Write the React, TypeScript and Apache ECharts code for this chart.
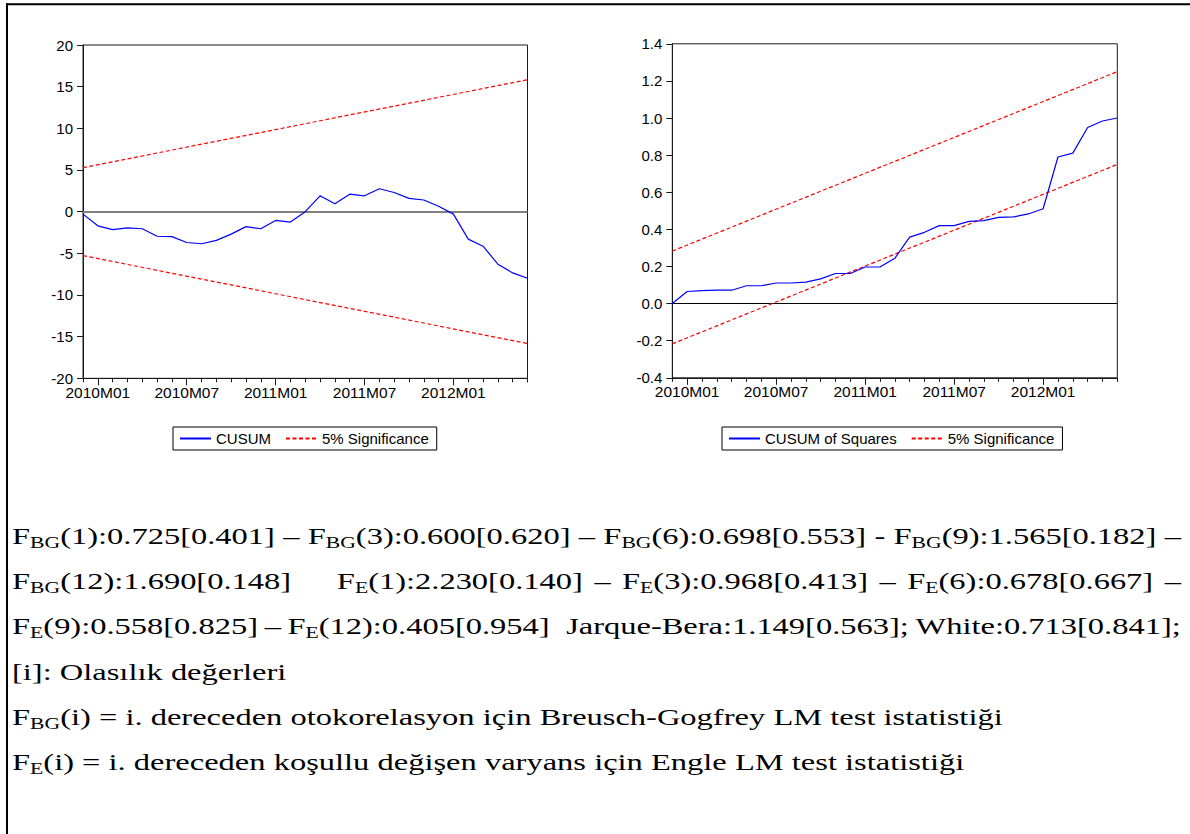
import React, { useEffect, useRef } from "react";
import * as echarts from "echarts";

// ---------- DATA ----------
const months = [
  "2009M12",
  "2010M01", "2010M02", "2010M03", "2010M04", "2010M05", "2010M06",
  "2010M07", "2010M08", "2010M09", "2010M10", "2010M11", "2010M12",
  "2011M01", "2011M02", "2011M03", "2011M04", "2011M05", "2011M06",
  "2011M07", "2011M08", "2011M09", "2011M10", "2011M11", "2011M12",
  "2012M01", "2012M02", "2012M03", "2012M04", "2012M05", "2012M06",
];
const labeledMonths = ["2010M01", "2010M07", "2011M01", "2011M07", "2012M01"];

const cusum = [
  -0.3, -1.7, -2.15, -1.95, -2.05, -2.95, -3.0, -3.7, -3.85, -3.45, -2.7,
  -1.8, -2.05, -1.05, -1.25, 0.0, 1.9, 0.95, 2.1, 1.9, 2.75, 2.3, 1.6, 1.4,
  0.65, -0.3, -3.3, -4.15, -6.3, -7.35, -8.0,
];
// 5% significance bounds of CUSUM at the first and last month
const cusumUpper = [5.28, 15.83];
const cusumLower = [-5.28, -15.83];

const cusumSq = [
  0.0, 0.065, 0.07, 0.072, 0.072, 0.096, 0.096, 0.111, 0.111, 0.116, 0.133,
  0.162, 0.162, 0.197, 0.197, 0.244, 0.358, 0.384, 0.42, 0.42, 0.443, 0.447,
  0.465, 0.467, 0.483, 0.511, 0.79, 0.811, 0.949, 0.984, 1.0,
];
const cusumSqUpper = [0.283, 1.25];
const cusumSqLower = [-0.217, 0.75];

const cusumAxis = { min: -20, max: 20, step: 5 };
const cusumSqAxis = { min: -0.4, max: 1.4, step: 0.2 };

const legendLeft = ["CUSUM", "5% Significance"];
const legendRight = ["CUSUM of Squares", "5% Significance"];

const statLine1 = ["F_{BG}(1):0.725[0.401]", "–", "F_{BG}(3):0.600[0.620]", "–", "F_{BG}(6):0.698[0.553]", "-", "F_{BG}(9):1.565[0.182]", "–"];
const statLine2 = ["F_{BG}(12):1.690[0.148]", "F_{E}(1):2.230[0.140]", "–", "F_{E}(3):0.968[0.413]", "–", "F_{E}(6):0.678[0.667]", "–"];
const statLine3 = ["F_{E}(9):0.558[0.825]", "–", "F_{E}(12):0.405[0.954]", "Jarque-Bera:1.149[0.563];", "White:0.713[0.841];"];
const noteLine1 = "[i]: Olasılık değerleri";
const noteLine2 = "F_{BG}(i) = i. dereceden otokorelasyon için Breusch-Gogfrey LM test istatistiği";
const noteLine3 = "F_{E}(i) = i. dereceden koşullu değişen varyans için Engle LM test istatistiği";

// ---------- LAYOUT ----------
const SANS = '"Liberation Sans", Arial, sans-serif';
const SERIF = '"Liberation Serif", "Times New Roman", serif';
const AXIS = "#1a1a1a";
const TEXT_LEFT = 12;
const TEXT_RIGHT = 1181;
const LINE_Y = [536, 581, 626, 672, 717, 762];
const FS = 24;
const SUB_FS = 16;
const SUB_DY = 6.5;

type Part = { t: string; sub: boolean };
function parse(s: string): Part[] {
  const out: Part[] = [];
  const re = /_\{([^}]*)\}/g;
  let last = 0;
  let m: RegExpExecArray | null;
  while ((m = re.exec(s))) {
    if (m.index > last) out.push({ t: s.slice(last, m.index), sub: false });
    out.push({ t: m[1], sub: true });
    last = m.index + m[0].length;
  }
  if (last < s.length) out.push({ t: s.slice(last), sub: false });
  return out;
}

function buildText(): any[] {
  const canvas = document.createElement("canvas");
  const ctx = canvas.getContext("2d")!;
  const measure = (t: string, size: number) => {
    ctx.font = `${size}px ${SERIF}`;
    return ctx.measureText(t).width;
  };
  const wordWidth = (w: string) =>
    parse(w).reduce((s, p) => s + measure(p.t, p.sub ? SUB_FS : FS), 0);
  const space = measure(" ", FS);
  const lines = [
    { words: statLine1, gaps: [1, 1, 1, 1, 1, 1, 1], justify: true },
    { words: statLine2, gaps: [4, 1, 1, 1, 1, 1], justify: true },
    { words: statLine3, gaps: [1, 1, 2.5, 1], justify: true },
    { words: noteLine1.split(" "), gaps: [] as number[], justify: false },
    { words: noteLine2.split(" "), gaps: [] as number[], justify: false },
    { words: noteLine3.split(" "), gaps: [] as number[], justify: false },
  ];
  const natural = (ws: string[]) =>
    ws.reduce((s, w) => s + wordWidth(w), 0) + (ws.length - 1) * space;
  const S =
    ((1002 - TEXT_LEFT) / natural(lines[4].words) +
      (965 - TEXT_LEFT) / natural(lines[5].words)) /
    2;

  const els: any[] = [];
  lines.forEach((line, li) => {
    const y = LINE_Y[li];
    const widths = line.words.map(wordWidth);
    const total = widths.reduce((a, b) => a + b, 0) * S;
    let unit = space * S;
    if (line.justify) {
      const g = line.gaps.reduce((a, b) => a + b, 0);
      unit = (TEXT_RIGHT - TEXT_LEFT - total) / g;
    }
    let x = TEXT_LEFT;
    line.words.forEach((w, wi) => {
      parse(w).forEach((p) => {
        const size = p.sub ? SUB_FS : FS;
        els.push({
          type: "text",
          x,
          y: y + (p.sub ? SUB_DY : 0),
          scaleX: S,
          silent: true,
          style: {
            text: p.t,
            fontSize: size,
            fontFamily: SERIF,
            fill: "#000",
            align: "left",
            verticalAlign: "middle",
          },
        });
        x += measure(p.t, size) * S;
      });
      if (wi < line.words.length - 1) {
        x += line.justify ? unit * line.gaps[wi] : unit;
      }
    });
  });
  return els;
}

function buildOption(): any {
  const isLabeled = (i: number) => labeledMonths.includes(months[i]);
  const last = months.length - 1;

  const xMain = (gridIndex: number) => ({
    type: "category",
    gridIndex,
    data: months,
    boundaryGap: false,
    position: "bottom",
    axisLine: { show: true, onZero: false, lineStyle: { color: AXIS, width: 1 } },
    axisTick: { show: true, interval: 0, length: 4, lineStyle: { color: AXIS } },
    axisLabel: {
      interval: (i: number) => isLabeled(i),
      color: "#000",
      fontSize: 15.5,
      fontFamily: SANS,
      margin: 6,
    },
    splitLine: { show: false },
  });
  const xMajor = (gridIndex: number) => ({
    type: "category",
    gridIndex,
    data: months,
    boundaryGap: false,
    position: "bottom",
    axisLine: { show: false, onZero: false },
    axisTick: { show: true, interval: (i: number) => isLabeled(i), length: 7, lineStyle: { color: AXIS } },
    axisLabel: { show: false },
    splitLine: { show: false },
  });
  const yAxis = (gridIndex: number, ax: any, fmt?: (v: number) => string) => ({
    type: "value",
    gridIndex,
    min: ax.min,
    max: ax.max,
    interval: ax.step,
    axisLine: { show: true, onZero: false, lineStyle: { color: AXIS, width: 1 } },
    axisTick: { show: true, length: 6, lineStyle: { color: AXIS } },
    axisLabel: { color: "#000", fontSize: 15, fontFamily: SANS, margin: 10, formatter: fmt },
    splitLine: { show: false },
  });

  const band = (name: string, xi: number, yi: number, ends: number[]) => ({
    name,
    type: "line",
    xAxisIndex: xi,
    yAxisIndex: yi,
    data: [
      [months[0], ends[0]],
      [months[last], ends[1]],
    ],
    symbol: "none",
    showSymbol: false,
    color: "#ff0000",
    lineStyle: { color: "#ff0000", width: 1.2, type: [4, 2.5] },
    silent: true,
    z: 3,
  });

  const legendBase = {
    top: 427,
    orient: "horizontal",
    itemWidth: 31,
    itemHeight: 14,
    itemGap: 14,
    padding: [4, 8, 4, 6],
    borderColor: "#000",
    borderWidth: 1,
    selectedMode: false,
    itemStyle: { opacity: 0, borderWidth: 0 },
    textStyle: { fontSize: 15, color: "#000", fontFamily: SANS },
  };

  return {
    animation: false,
    backgroundColor: "#fff",
    grid: [
      { left: 83, top: 45, width: 444.5, height: 333.3, show: true, borderColor: AXIS, borderWidth: 1, backgroundColor: "transparent" },
      { left: 672.3, top: 43.8, width: 445, height: 334, show: true, borderColor: AXIS, borderWidth: 1, backgroundColor: "transparent" },
    ],
    xAxis: [xMain(0), xMajor(0), xMain(1), xMajor(1)],
    yAxis: [
      yAxis(0, cusumAxis),
      yAxis(1, cusumSqAxis, (v: number) => (Math.abs(v) < 1e-9 ? "0.0" : v.toFixed(1))),
    ],
    legend: [
      { ...legendBase, data: legendLeft, left: 173 },
      { ...legendBase, data: legendRight, left: 722 },
    ],
    series: [
      {
        name: "CUSUM",
        type: "line",
        xAxisIndex: 0,
        yAxisIndex: 0,
        data: cusum,
        symbol: "none",
        showSymbol: false,
        color: "#0000ff",
        lineStyle: { color: "#0000ff", width: 1.2 },
        silent: true,
        z: 4,
        markLine: {
          silent: true,
          symbol: ["none", "none"],
          label: { show: false },
          lineStyle: { color: "#808080", width: 2, type: "solid" },
          data: [{ yAxis: 0 }],
          z: 1,
        },
      },
      band("5% Significance", 0, 0, cusumUpper),
      band("5% Significance", 0, 0, cusumLower),
      {
        name: "CUSUM of Squares",
        type: "line",
        xAxisIndex: 2,
        yAxisIndex: 1,
        data: cusumSq,
        symbol: "none",
        showSymbol: false,
        color: "#0000ff",
        lineStyle: { color: "#0000ff", width: 1.2 },
        silent: true,
        z: 4,
        markLine: {
          silent: true,
          symbol: ["none", "none"],
          label: { show: false },
          lineStyle: { color: "#000", width: 1, type: "solid" },
          data: [{ yAxis: 0 }],
          z: 1,
        },
      },
      band("5% Significance", 2, 1, cusumSqUpper),
      band("5% Significance", 2, 1, cusumSqLower),
    ],
    graphic: {
      elements: [
        { type: "line", silent: true, shape: { x1: 6, y1: 4.2, x2: 1190, y2: 4.2 }, style: { stroke: "#000", lineWidth: 2 } },
        { type: "line", silent: true, shape: { x1: 7, y1: 3.2, x2: 7, y2: 834 }, style: { stroke: "#000", lineWidth: 2 } },
        ...buildText(),
      ],
    },
  };
}

export default function App() {
  const ref = useRef<HTMLDivElement>(null);
  useEffect(() => {
    if (!ref.current) return;
    const chart = echarts.init(ref.current, undefined, { renderer: "svg" });
    chart.setOption(buildOption());
    return () => chart.dispose();
  }, []);
  return (
    <div
      ref={ref}
      style={{ position: "absolute", left: 0, top: 0, width: 1190, height: 834, background: "#fff" }}
    />
  );
}
